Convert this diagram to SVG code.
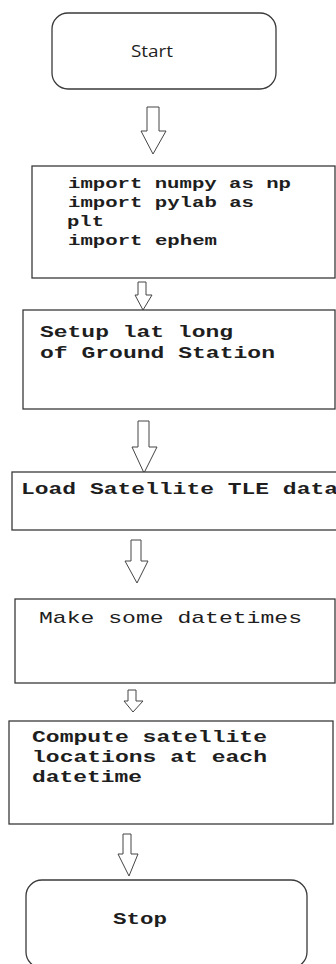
<svg xmlns="http://www.w3.org/2000/svg" width="336" height="964" viewBox="0 0 336 964">
<style>
.box{fill:#fff;stroke:#3a3a3a;stroke-width:1.3}
.arr{fill:#fff;stroke:#444;stroke-width:1;stroke-linejoin:miter}
.mono{font-family:"Liberation Mono","Courier New",monospace;fill:#1e1e1e}
.b{font-weight:bold}
.r{font-weight:normal}
.sans{font-family:"Open Sans","Liberation Sans",sans-serif;fill:#1e1e1e}
</style>
<rect width="336" height="964" fill="#fff"/>
<g id="connectors">
<polygon class="arr" points="147,107 159,107 159,131 166,131 153,154 141,131 147,131"/>
<polygon class="arr" points="138,282 146,282 146,295 152,295 143,310 135,295 138,295"/>
<polygon class="arr" points="138,421 149,421 149,447 157,447 144,473 132,447 138,447"/>
<polygon class="arr" points="131,540 141,540 141,561 148,561 137,583 125,561 131,561"/>
<polygon class="arr" points="128,690 136,690 136,701 143,701 133,712 124,701 128,701"/>
<polygon class="arr" points="123,834 131,834 131,854 138,854 129,876 118,854 123,854"/>
</g>
<g id="start">
<rect class="box" x="52" y="13" width="224" height="76" rx="16" ry="16"/>
<text class="sans" x="131" y="57" font-size="16" textLength="42" lengthAdjust="spacingAndGlyphs">Start</text>
</g>
<g id="imports">
<rect class="box" x="32" y="166" width="303" height="112"/>
<text class="mono b" font-size="15">
<tspan x="68" y="188" textLength="223" lengthAdjust="spacingAndGlyphs">import numpy as np</tspan>
<tspan x="68" y="207" textLength="186" lengthAdjust="spacingAndGlyphs">import pylab as</tspan>
<tspan x="67" y="226" textLength="37" lengthAdjust="spacingAndGlyphs">plt</tspan>
<tspan x="68" y="245" textLength="149" lengthAdjust="spacingAndGlyphs">import ephem</tspan>
</text>
</g>
<g id="setup">
<rect class="box" x="23" y="310" width="312" height="99"/>
<text class="mono b" font-size="17">
<tspan x="40" y="337" textLength="193" lengthAdjust="spacingAndGlyphs">Setup lat long</tspan>
<tspan x="40" y="358" textLength="235" lengthAdjust="spacingAndGlyphs">of Ground Station</tspan>
</text>
</g>
<g id="load">
<rect class="box" x="12" y="472" width="340" height="58"/>
<text class="mono b" font-size="17" x="21" y="494" textLength="317" lengthAdjust="spacingAndGlyphs">Load Satellite TLE data</text>
</g>
<g id="datetimes">
<rect class="box" x="15" y="599" width="320" height="84"/>
<text class="mono r" font-size="17" x="39" y="623" textLength="263" lengthAdjust="spacingAndGlyphs">Make some datetimes</text>
</g>
<g id="compute">
<rect class="box" x="9" y="721" width="324" height="103"/>
<text class="mono b" font-size="17">
<tspan x="32" y="742" textLength="235" lengthAdjust="spacingAndGlyphs">Compute satellite</tspan>
<tspan x="32" y="762" textLength="235" lengthAdjust="spacingAndGlyphs">locations at each</tspan>
<tspan x="32" y="782" textLength="110" lengthAdjust="spacingAndGlyphs">datetime</tspan>
</text>
</g>
<g id="stop">
<rect class="box" x="26" y="880" width="281" height="88" rx="16" ry="16"/>
<text class="mono b" font-size="17" x="113" y="924" textLength="54" lengthAdjust="spacingAndGlyphs">Stop</text>
</g>
</svg>
